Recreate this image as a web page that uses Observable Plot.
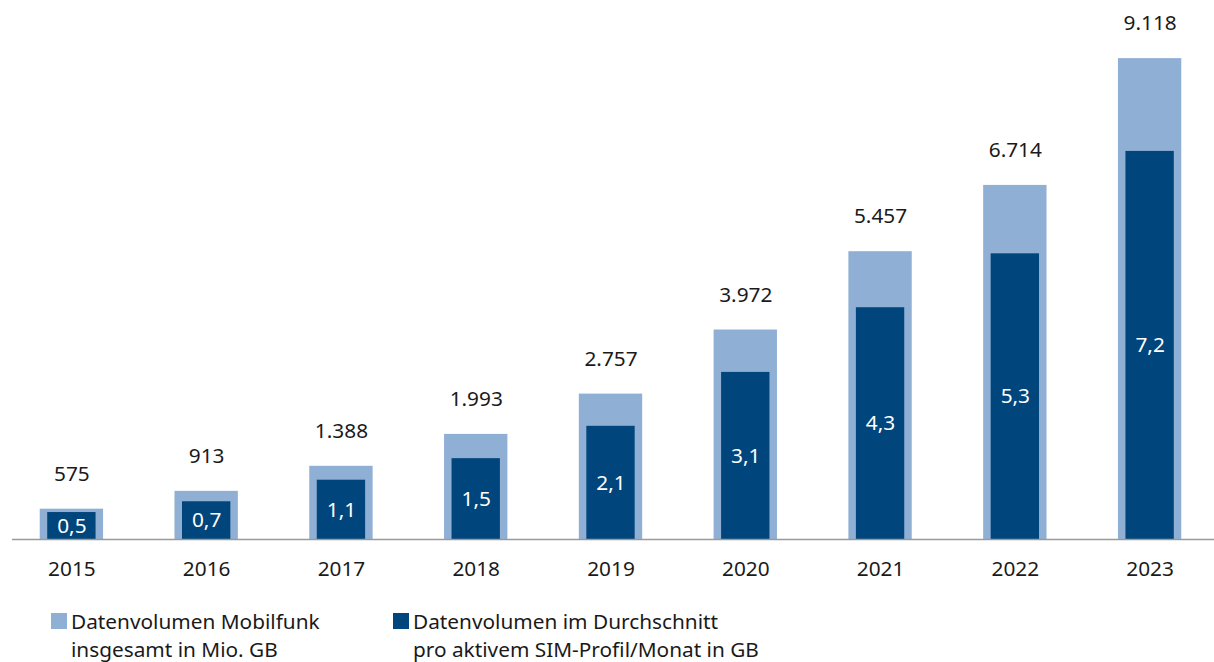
<!DOCTYPE html>
<html>
<head>
<meta charset="utf-8">
<script src="https://cdn.jsdelivr.net/npm/d3@7"></script>
<script src="https://cdn.jsdelivr.net/npm/@observablehq/plot@0.6"></script>
<style>
  html, body { margin: 0; padding: 0; background: #fff; overflow: hidden; }
  #wrap { position: relative; width: 1214px; height: 662px; overflow: hidden; font-family: "Noto Sans", sans-serif; color: #1a1a1a; }
  .sw { position: absolute; width: 16px; height: 16px; }
  .lt { position: absolute; font-size: 20.8px; line-height: 28px; white-space: nowrap; }
</style>
</head>
<body>
<div id="wrap">
  <div id="chart"></div>
  <div class="sw" style="left:51px; top:613px; background:#8fafd5;"></div>
  <div class="lt" style="left:71px; top:607px;">Datenvolumen Mobilfunk<br>insgesamt in Mio. GB</div>
  <div class="sw" style="left:393px; top:613px; background:#00457b;"></div>
  <div class="lt" style="left:413px; top:607px;">Datenvolumen im Durchschnitt<br>pro aktivem SIM-Profil/Monat in GB</div>
</div>
<script>
const years = ["2015","2016","2017","2018","2019","2020","2021","2022","2023"];
const totalMioGB = [575, 913, 1388, 1993, 2757, 3972, 5457, 6714, 9118];
const avgGB = [0.5, 0.7, 1.1, 1.5, 2.1, 3.1, 4.3, 5.3, 7.2];

// secondary-axis ratio (1 GB per SIM drawn as ~1022 Mio. GB)
const avgAxisRatio = 1022;

const data = years.map((y, i) => ({year: y, total: totalMioGB[i], avg: avgGB[i]}));
const de = d3.formatLocale({decimal: ",", thousands: ".", grouping: [3], currency: ["", " €"]});
const fmtTotal = de.format(",d");
const fmtAvg = de.format(",.1f");

const light = "#8fafd5", dark = "#00457b";

const chart = Plot.plot({
  width: 1214,
  height: 595,
  marginTop: 0,
  marginBottom: 56,
  marginLeft: 4,
  marginRight: -3,
  style: {fontFamily: "Noto Sans, sans-serif", fontSize: "20.8px", color: "#1a1a1a", background: "#fff", overflow: "visible"},
  x: {domain: years, paddingInner: 0.53, paddingOuter: 0.265, align: 0.5, round: false, label: null},
  y: {domain: [0, 10220], axis: null},
  marks: [
    Plot.barY(data, {x: "year", y: "total", fill: light}),
    Plot.barY(data, {x: "year", y: d => d.avg * avgAxisRatio, fill: dark, insetLeft: 7.5, insetRight: 7.5}),
    Plot.ruleY([0], {stroke: "#9a9a9a", strokeWidth: 1.5, insetLeft: 8}),
    Plot.text(data, {x: "year", y: "total", text: d => fmtTotal(d.total), dy: -35, fill: "#1a1a1a", fontSize: 20.8}),
    Plot.text(data, {x: "year", y: d => d.avg * avgAxisRatio / 2, text: d => fmtAvg(d.avg), fill: "#fff", fontSize: 20.8}),
    Plot.axisX({tickSize: 0, tickPadding: 22, fontSize: 20.8, label: null, fill: "#1a1a1a"})
  ]
});
document.getElementById("chart").appendChild(chart);
</script>
</body>
</html>
